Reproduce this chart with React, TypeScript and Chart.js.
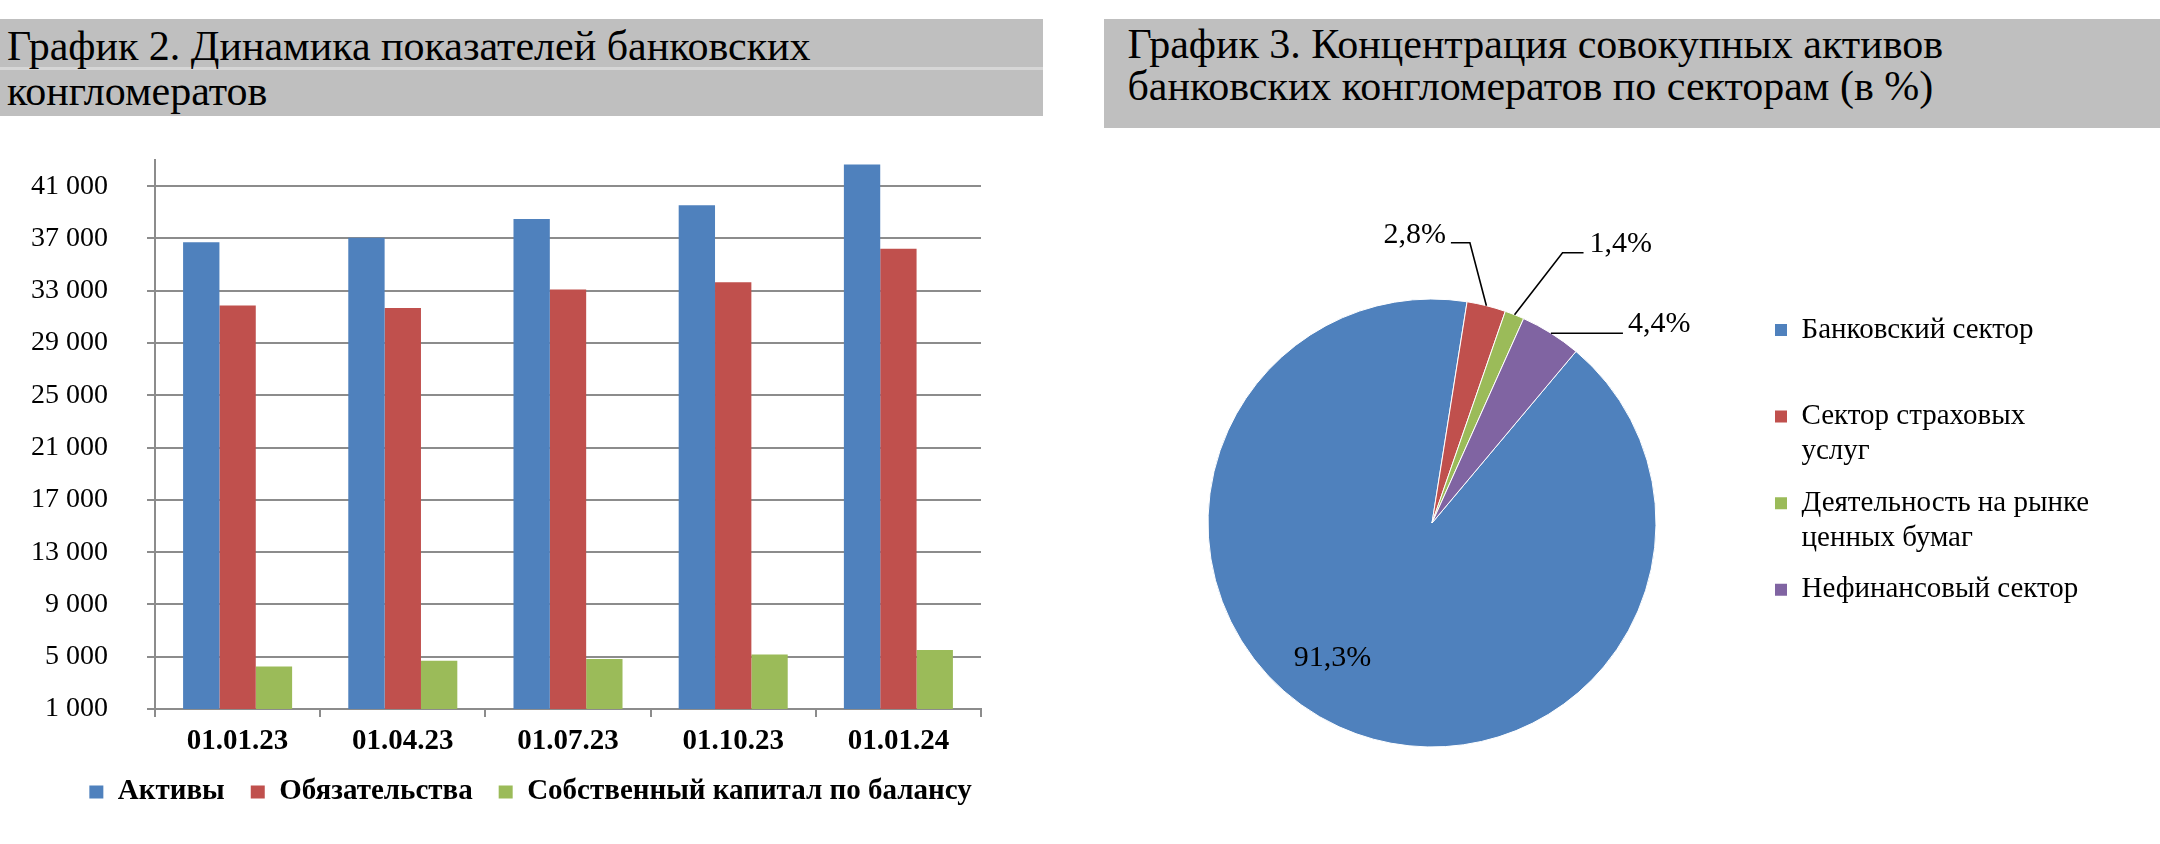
import React, { useEffect, useRef } from 'react';
import { Chart, registerables } from 'chart.js';

Chart.register(...registerables);

const FONT = '"Liberation Serif", "Times New Roman", serif';

// ---- Bar chart data ----
const categories = ['01.01.23', '01.04.23', '01.07.23', '01.10.23', '01.01.24'];
const seriesNames = ['Активы', 'Обязательства', 'Собственный капитал по балансу'];
const assets = [36700, 37050, 38480, 39530, 42650];
const liabilities = [31870, 31670, 33090, 33650, 36210];
const equity = [4260, 4690, 4820, 5170, 5520];
const yTickValues = [1000, 5000, 9000, 13000, 17000, 21000, 25000, 29000, 33000, 37000, 41000];

// ---- Pie chart data ----
const sectorLabels = ['Банковский сектор', 'Сектор страховых услуг', 'Деятельность на рынке ценных бумаг', 'Нефинансовый сектор'];
const sectorLegendLines = [['Банковский сектор', ''], ['Сектор страховых', 'услуг'], ['Деятельность на рынке', 'ценных бумаг'], ['Нефинансовый сектор', '']];
const sectorShares = [91.3, 2.8, 1.4, 4.4];

// ---- Titles ----
const titleLeft = ['График 2. Динамика показателей банковских', 'конгломератов'];
const titleRight = ['График 3. Концентрация совокупных активов', 'банковских конгломератов по секторам (в %)'];

const barColors = ['#4F81BD', '#C0504D', '#9BBB59'];
const pieColors = ['#4F81BD', '#C0504D', '#9BBB59', '#8064A2'];
const gridColor = '#8c8c8c';

const fmtThousands = (v: number) => {
  const s = String(Math.round(v));
  return s.replace(/\B(?=(\d{3})+(?!\d))/g, ' ');
};
const fmtPct = (v: number) => v.toFixed(1).replace('.', ',') + '%';

// label placement (style), relative to each slice's outer mid-point
const labelPlacement = [
  { inside: true, text: [-99.5, 135.5], align: 'center' },
  { elbow: [-16.5, -63], end: [-35.5, -63], text: [-40.5, -71], align: 'right' },
  { elbow: [48, -62], end: [69, -62], text: [75, -71], align: 'left' },
  { elbow: null, end: [72, 0], text: [77, -9], align: 'left' },
];

const pieLabelPlugin = {
  id: 'pieLabels',
  afterDatasetsDraw(chart: any) {
    const ctx = chart.ctx;
    const meta = chart.getDatasetMeta(0);
    const values = chart.data.datasets[0].data as number[];
    ctx.save();
    ctx.font = `30px ${FONT}`;
    ctx.fillStyle = '#000';
    ctx.strokeStyle = '#000';
    ctx.lineWidth = 1.6;
    ctx.textBaseline = 'middle';
    meta.data.forEach((arc: any, i: number) => {
      const { x, y, startAngle, endAngle, outerRadius } = arc.getProps(['x', 'y', 'startAngle', 'endAngle', 'outerRadius'], true);
      const mid = (startAngle + endAngle) / 2;
      const ax = x + Math.cos(mid) * outerRadius;
      const ay = y + Math.sin(mid) * outerRadius;
      const p: any = labelPlacement[i];
      const label = fmtPct(values[i]);
      if (p.inside) {
        ctx.textAlign = 'center';
        ctx.fillText(label, x + p.text[0], y + p.text[1]);
        return;
      }
      ctx.beginPath();
      ctx.moveTo(ax, ay);
      if (p.elbow) ctx.lineTo(ax + p.elbow[0], ay + p.elbow[1]);
      ctx.lineTo(ax + p.end[0], ay + p.end[1]);
      ctx.stroke();
      ctx.textAlign = p.align;
      ctx.fillText(label, ax + p.text[0], ay + p.text[1]);
    });
    ctx.restore();
  },
};

function barConfig(): any {
  const series = [assets, liabilities, equity];
  return {
    type: 'bar',
    data: {
      labels: categories,
      datasets: series.map((d, i) => ({
        label: seriesNames[i],
        data: d,
        backgroundColor: barColors[i],
        borderWidth: 0,
        categoryPercentage: 0.66,
        barPercentage: 1,
        yAxisID: 'y',
      })),
    },
    options: {
      responsive: false,
      animation: false,
      events: [],
      layout: { padding: { left: 0, right: 20, top: 30, bottom: 27.5 } },
      plugins: {
        legend: {
          position: 'bottom',
          labels: {
            boxWidth: 14,
            boxHeight: 13,
            padding: 26,
            color: '#000',
            font: { family: FONT, size: 29, weight: 'bold' },
          },
        },
        tooltip: { enabled: false },
      },
      scales: {
        x: {
          type: 'category',
          grid: { offset: true, drawOnChartArea: false, drawTicks: true, tickLength: 8, color: gridColor, lineWidth: 2 },
          border: { color: gridColor, width: 2 },
          ticks: { color: '#000', padding: 7, font: { family: FONT, size: 29, weight: 'bold' }, maxRotation: 0 },
          afterFit: (s: any) => { s.height = 42.5; },
        },
        y: {
          type: 'linear',
          position: 'left',
          min: 1000,
          max: 43000,
          afterBuildTicks: (s: any) => { s.ticks = yTickValues.map((v) => ({ value: v })); },
          grid: { color: gridColor, lineWidth: 2, drawTicks: true, tickLength: 8 },
          border: { color: gridColor, width: 2 },
          ticks: { color: '#000', padding: 39, font: { family: FONT, size: 28 }, callback: (v: any) => fmtThousands(Number(v)) },
          afterFit: (s: any) => { s.width = 155; s.paddingTop = 0; s.paddingBottom = 0; },
        },
        yR: {
          type: 'linear',
          position: 'right',
          display: true,
          grid: { display: false, drawTicks: false },
          border: { display: false },
          ticks: { display: false },
          afterFit: (s: any) => { s.width = 80; s.paddingTop = 0; s.paddingBottom = 0; },
        },
      },
    },
  };
}

function pieConfig(): any {
  return {
    type: 'pie',
    data: {
      labels: sectorLabels,
      datasets: [{
        data: sectorShares,
        backgroundColor: pieColors,
        borderColor: '#ffffff',
        borderWidth: 1,
      }],
    },
    options: {
      responsive: false,
      animation: false,
      events: [],
      rotation: 40,
      layout: { padding: { left: 0, right: 72, top: 168.5, bottom: 96.5 } },
      plugins: {
        legend: {
          position: 'right',
          align: 'start',
          maxWidth: 330,
          labels: {
            boxWidth: 12,
            boxHeight: 12,
            padding: 17,
            color: '#000',
            font: { family: FONT, size: 29, lineHeight: 1.2 },
            generateLabels: (chart: any) => chart.data.labels.map((_: string, i: number) => ({
              text: sectorLegendLines[i],
              fillStyle: pieColors[i],
              strokeStyle: pieColors[i],
              lineWidth: 0,
              hidden: false,
              index: i,
              fontColor: '#000',
            })),
          },
        },
        tooltip: { enabled: false },
      },
    },
    plugins: [pieLabelPlugin],
  };
}

const titleText: React.CSSProperties = {
  position: 'absolute',
  fontFamily: FONT,
  fontSize: 42,
  lineHeight: '42px',
  color: '#000',
  whiteSpace: 'nowrap',
};

export default function App() {
  const barRef = useRef<HTMLCanvasElement>(null);
  const pieRef = useRef<HTMLCanvasElement>(null);

  useEffect(() => {
    const bar = new Chart(barRef.current as HTMLCanvasElement, barConfig());
    const pie = new Chart(pieRef.current as HTMLCanvasElement, pieConfig());
    return () => {
      bar.destroy();
      pie.destroy();
    };
  }, []);

  return (
    <div style={{ position: 'absolute', left: 0, top: 0, width: 2160, height: 844, background: '#fff', overflow: 'hidden' }}>
      <div style={{ position: 'absolute', left: 0, top: 19, width: 1043, height: 97, background: '#bfbfbf' }}>
        <div style={{ position: 'absolute', left: 0, top: 48, width: '100%', height: 3, background: '#d6d6d6' }} />
        <div style={{ ...titleText, left: 7, top: 5.8 }}>{titleLeft[0]}</div>
        <div style={{ ...titleText, left: 7, top: 50.8 }}>{titleLeft[1]}</div>
      </div>
      <div style={{ position: 'absolute', left: 1104, top: 19, width: 1056, height: 109, background: '#bfbfbf' }}>
        <div style={{ ...titleText, left: 23.5, top: 3.8 }}>{titleRight[0]}</div>
        <div style={{ ...titleText, left: 23.5, top: 45.8 }}>{titleRight[1]}</div>
      </div>
      <div style={{ position: 'absolute', left: 0, top: 130, width: 1081, height: 714 }}>
        <canvas ref={barRef} width={1081} height={714} style={{ display: 'block' }} />
      </div>
      <div style={{ position: 'absolute', left: 1106, top: 130, width: 1054, height: 714 }}>
        <canvas ref={pieRef} width={1054} height={714} style={{ display: 'block' }} />
      </div>
    </div>
  );
}
